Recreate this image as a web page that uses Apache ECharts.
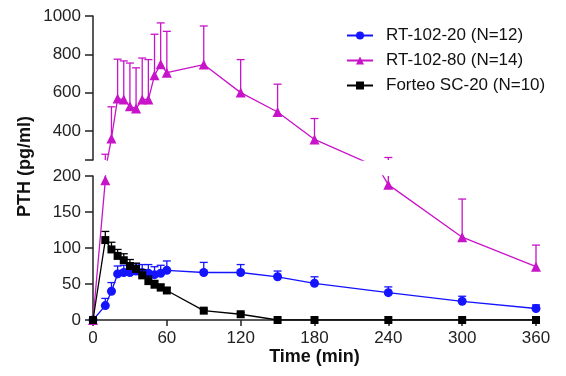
<!DOCTYPE html>
<html>
<head>
<meta charset="utf-8">
<script src="https://cdn.jsdelivr.net/npm/echarts@6/dist/echarts.min.js"></script>
<style>
  html, body { margin: 0; padding: 0; background: #fff; }
  #pth-chart { width: 566px; height: 376px; }
</style>
</head>
<body>
<div id="pth-chart"></div>
<script>
// sampling times (min)
const times = [0, 10, 15, 20, 25, 30, 35, 40, 45, 50, 55, 60, 90, 120, 150, 180, 240, 300, 360];

// mean PTH (pg/ml) and upper SD
const rt20 = [0, 20, 40, 64, 66, 66, 68, 66, 65, 63, 65, 69, 66, 66, 60, 51, 38, 26, 16];
const rt20Sd = [0, 10, 12, 11, 10, 10, 10, 11, 12, 11, 11, 13, 14, 11, 8, 9, 8, 7, 5];

const rt80 = [0, 194, 362, 570, 565, 530, 518, 565, 565, 691, 749, 705, 747, 601, 500, 357, 188, 115, 74];
const rt80Sd = [0, 86, 165, 205, 201, 225, 212, 216, 208, 214, 215, 215, 201, 172, 145, 109, 75, 53, 30];

const forteo = [0, 111, 98, 89, 83, 75, 71, 62, 54, 49, 45, 41, 13, 8, 0, 0, 0, 0, 0];
const forteoSd = [0, 12, 10, 9, 9, 9, 8, 8, 7, 6, 5, 4, 2, 2, 0, 0, 0, 0, 0];

const xTicks = [0, 60, 120, 180, 240, 300, 360];
const upperTicks = [250, 400, 600, 800, 1000];
const upperLabels = [400, 600, 800, 1000];

const names = ['RT-102-20 (N=12)', 'RT-102-80 (N=14)', 'Forteo SC-20 (N=10)'];
const colors = ['#1414ff', '#c814c8', '#000000'];

const chart = echarts.init(document.getElementById('pth-chart'));

const toPoints = (vals) => times.map((t, i) => [t, vals[i]]);
const toBars = (vals, sd) =>
    times.map((t, i) => [t, vals[i], vals[i] + sd[i]]).filter((d) => d[2] > d[1]);

// upward error bar, clipped by hand to the grid it belongs to
function renderErr(params, api) {
    const cs = params.coordSys;
    const p = api.coord([api.value(0), api.value(1)]);
    const q = api.coord([api.value(0), api.value(2)]);
    const top = cs.y;
    const bottom = cs.y + cs.height;
    const y1 = Math.min(p[1], bottom);
    const y2 = Math.max(q[1], top);
    if (y1 <= y2) return null;
    const style = { stroke: api.visual('color'), lineWidth: 1.3 };
    const children = [
        { type: 'line', shape: { x1: p[0], y1: y1, x2: p[0], y2: y2 }, style: style },
    ];
    if (q[1] >= top) {
        children.push({ type: 'line', shape: { x1: p[0] - 4, y1: q[1], x2: p[0] + 4, y2: q[1] }, style: style });
    }
    return { type: 'group', children: children };
}

const axisStyle = { lineStyle: { color: '#222', width: 1.5 } };
const labelFont = { color: '#222', fontSize: 17, fontFamily: 'Liberation Sans, Arial, sans-serif' };
const plain = (v) => String(v);

function lineSeries(idx, vals, grid, symbol, size) {
    return {
        name: names[idx],
        type: 'line',
        xAxisIndex: grid,
        yAxisIndex: grid,
        data: toPoints(vals),
        clip: true,
        symbol: symbol,
        symbolSize: size,
        color: colors[idx],
        lineStyle: { width: 1.3, color: colors[idx] },
        itemStyle: { color: colors[idx] },
        animation: false,
        z: 3 + idx,
    };
}

function errSeries(idx, vals, sd, grid) {
    return {
        name: 'err' + idx + '-' + grid,
        type: 'custom',
        xAxisIndex: grid,
        yAxisIndex: grid,
        data: toBars(vals, sd),
        renderItem: renderErr,
        itemStyle: { color: colors[idx] },
        animation: false,
        z: 2 + idx,
    };
}

const option = {
    animation: false,
    grid: [
        { left: 93, top: 16, width: 443, height: 144 },
        { left: 93, top: 176, width: 443, height: 144 },
    ],
    xAxis: [
        { gridIndex: 0, type: 'value', min: 0, max: 360, interval: 60, show: false },
        {
            gridIndex: 1,
            type: 'value',
            min: 0,
            max: 360,
            interval: 60,
            axisLine: axisStyle,
            axisTick: { show: true, length: 6, lineStyle: { color: '#222', width: 1.5 } },
            axisLabel: Object.assign({ margin: 10, customValues: xTicks, formatter: plain }, labelFont),
            splitLine: { show: false },
            name: 'Time (min)',
            nameLocation: 'middle',
            nameGap: 24,
            nameTextStyle: { color: '#111', fontSize: 18, fontWeight: 'bold', fontFamily: 'Liberation Sans, Arial, sans-serif' },
        },
    ],
    yAxis: [
        {
            gridIndex: 0,
            type: 'value',
            min: 250,
            max: 1000,
            axisLine: { show: true, lineStyle: { color: '#222', width: 1.5 } },
            axisTick: { show: true, length: 8, customValues: upperTicks, lineStyle: { color: '#222', width: 1.5 } },
            axisLabel: Object.assign({ margin: 12, customValues: upperLabels, formatter: plain }, labelFont),
            splitLine: { show: false },
        },
        {
            gridIndex: 1,
            type: 'value',
            min: 0,
            max: 200,
            interval: 50,
            axisLine: { show: true, lineStyle: { color: '#222', width: 1.5 } },
            axisTick: { show: true, length: 8, lineStyle: { color: '#222', width: 1.5 } },
            axisLabel: Object.assign({ margin: 12, formatter: plain }, labelFont),
            splitLine: { show: false },
        },
    ],
    legend: {
        data: names,
        orient: 'vertical',
        left: 341,
        top: 22,
        itemWidth: 26,
        itemHeight: 10,
        itemGap: 8,
        textStyle: { color: '#111', fontSize: 17, fontFamily: 'Liberation Sans, Arial, sans-serif', padding: [0, 0, 0, 8] },
    },
    graphic: [
        {
            type: 'text',
            left: 16,
            top: 116,
            rotation: Math.PI / 2,
            style: {
                text: 'PTH (pg/ml)',
                fill: '#111',
                font: 'bold 18px Liberation Sans, Arial, sans-serif',
            },
        },
    ],
    series: [
        errSeries(2, forteo, forteoSd, 1),
        lineSeries(2, forteo, 1, 'rect', 8),
        errSeries(0, rt20, rt20Sd, 1),
        lineSeries(0, rt20, 1, 'circle', 9),
        errSeries(1, rt80, rt80Sd, 1),
        lineSeries(1, rt80, 1, 'triangle', 10),
        errSeries(1, rt80, rt80Sd, 0),
        lineSeries(1, rt80, 0, 'triangle', 10),
    ],
};

chart.setOption(option);
</script>
</body>
</html>
